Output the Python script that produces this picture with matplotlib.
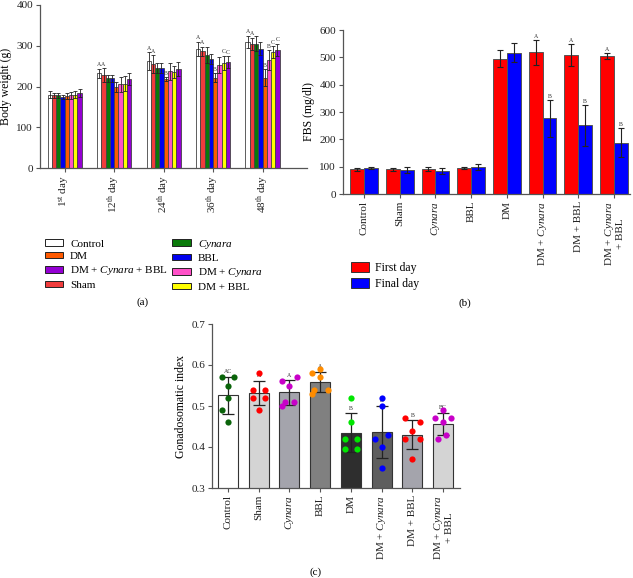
import numpy as np
import matplotlib
matplotlib.use("Agg")
import matplotlib.pyplot as plt
from matplotlib.patches import Patch

plt.rcParams['font.family'] = ['Liberation Serif', 'DejaVu Serif']
plt.rcParams['mathtext.fontset'] = 'custom'
plt.rcParams['mathtext.rm'] = 'Liberation Serif'
plt.rcParams['mathtext.it'] = 'Liberation Serif:italic'

# ---------------- Data ----------------
# Panel (a): body weight
days = ['1$^{\\rm st}$ day', '12$^{\\rm th}$ day', '24$^{\\rm th}$ day', '36$^{\\rm th}$ day', '48$^{\\rm th}$ day']
groups_a = ['Control', 'Sham', 'Cynara', 'BBL', 'DM', 'DM + Cynara', 'DM + BBL', 'DM + Cynara + BBL']
bw_control = [180, 232, 263, 292, 310]
bw_sham = [178, 228, 255, 286, 305]
bw_cynara = [178, 220, 245, 278, 305]
bw_bbl = [175, 220, 245, 268, 293]
bw_dm = [177, 198, 218, 222, 222]
bw_dm_cyn = [178, 205, 237, 252, 265]
bw_dm_bbl = [180, 207, 235, 258, 285]
bw_dm_cyn_bbl = [185, 218, 243, 260, 290]
err_control = [8, 12, 22, 18, 15]
err_sham = [6, 18, 22, 12, 15]
err_cynara = [6, 8, 12, 20, 18]
err_bbl = [5, 8, 12, 12, 15]
err_dm = [7, 12, 5, 10, 20]
err_dm_cyn = [8, 18, 20, 20, 25]
err_dm_bbl = [8, 18, 15, 18, 15]
err_dm_cyn_bbl = [10, 15, 18, 15, 15]
letters_a = {  # (day index, group index): letter
    (1, 0): 'A', (1, 1): 'A',
    (2, 0): 'A', (2, 1): 'A', (2, 4): 'B',
    (3, 0): 'A', (3, 1): 'A', (3, 4): 'B', (3, 6): 'C', (3, 7): 'C',
    (4, 0): 'A', (4, 1): 'A', (4, 4): 'B', (4, 5): 'B', (4, 6): 'C', (4, 7): 'C',
}

# Panel (b): FBS
cats = ['Control', 'Sham', 'Cynara', 'BBL', 'DM', 'DM + Cynara', 'DM + BBL', 'DM + Cynara + BBL']
fbs_first = [90, 90, 92, 94, 495, 518, 510, 505]
fbs_final = [95, 87, 85, 98, 517, 277, 252, 188]
fbs_first_err = [5, 5, 7, 3, 30, 45, 40, 10]
fbs_final_err = [5, 10, 10, 10, 35, 68, 75, 52]
letters_first = ['', '', '', '', '', 'A', 'A', 'A']
letters_final = ['', '', '', '', '', 'B', 'B', 'B']

# Panel (c): gonadosomatic index (individual points)
gsi_control = [0.57, 0.57, 0.55, 0.52, 0.49, 0.46]
gsi_sham = [0.58, 0.54, 0.54, 0.52, 0.52, 0.49]
gsi_cynara = [0.56, 0.57, 0.55, 0.51, 0.51, 0.50]
gsi_bbl = [0.58, 0.59, 0.57, 0.54, 0.54, 0.53]
gsi_dm = [0.52, 0.46, 0.42, 0.42, 0.395, 0.395]
gsi_dm_cyn = [0.52, 0.50, 0.42, 0.43, 0.40, 0.35]
gsi_dm_bbl = [0.47, 0.46, 0.44, 0.42, 0.42, 0.37]
gsi_dm_cyn_bbl = [0.49, 0.47, 0.47, 0.46, 0.43, 0.42]
letters_c = ['AC', 'A', 'A', 'A', 'B', 'B', 'B', 'BC']

# ---------------- Figure ----------------
fig = plt.figure(figsize=(6.33, 5.78), dpi=100)
W, H = 633, 578
def ax_px(l, t, r, b):
    return fig.add_axes([l / W, 1 - b / H, (r - l) / W, (b - t) / H])

TICK = 8
spine_col = '#555555'
def style(ax):
    for s in ['top', 'right']:
        ax.spines[s].set_visible(False)
    for s in ['left', 'bottom']:
        ax.spines[s].set_color(spine_col)
        ax.spines[s].set_linewidth(0.9)
    ax.tick_params(colors='#222222', labelsize=TICK, width=0.8, length=3, color=spine_col, pad=2)

def it_label(s):
    return s.replace('Cynara', '$\\mathit{Cynara}$')

# ---- Panel (a) ----
axa = ax_px(40, 5, 307, 168)
style(axa)
vals_a = [bw_control, bw_sham, bw_cynara, bw_bbl, bw_dm, bw_dm_cyn, bw_dm_bbl, bw_dm_cyn_bbl]
errs_a = [err_control, err_sham, err_cynara, err_bbl, err_dm, err_dm_cyn, err_dm_bbl, err_dm_cyn_bbl]
cols_a = ['#ffffff', '#f03c3c', '#0a7a0a', '#0000ee', '#ff5a00', '#ff50c8', '#ffff00', '#9400d3']
x = np.arange(len(days))
bwid = 0.086
handles_a = {}
for gi, (v, e, c) in enumerate(zip(vals_a, errs_a, cols_a)):
    xs = x + (gi - 3.5) * bwid
    axa.bar(xs, v, width=bwid, color=c, edgecolor='#444444', linewidth=0.6,
            yerr=e, error_kw=dict(ecolor='#222222', elinewidth=0.6, capsize=1.2, capthick=0.6))
    handles_a[groups_a[gi]] = Patch(facecolor=c, edgecolor='#222222', linewidth=0.7)
for (di, gi), lt in letters_a.items():
    xs = x[di] + (gi - 3.5) * bwid
    axa.text(xs, vals_a[gi][di] + errs_a[gi][di] + 3, lt, ha='center', va='bottom', fontsize=4.2, color='#333333')
axa.set_ylim(0, 400)
axa.set_yticks([0, 100, 200, 300, 400])
axa.set_xlim(-0.5, 4.9)
axa.set_xticks(x)
axa.set_xticklabels(days, rotation=90, fontsize=TICK)
axa.set_ylabel('Body weight (g)', fontsize=8.5, labelpad=3)

order = ['Control', 'DM', 'DM + Cynara + BBL', 'Sham', 'Cynara', 'BBL', 'DM + Cynara', 'DM + BBL']
fig.legend([handles_a[k] for k in order], [it_label(k) for k in order],
           loc='upper left', bbox_to_anchor=(39 / W, 1 - 232 / H), ncol=2, frameon=False,
           fontsize=8, handlelength=1.7, handleheight=0.5, labelspacing=0.3,
           columnspacing=0.4, handletextpad=0.6, borderpad=0)
fig.text(143 / W, 1 - 302 / H, '(a)', ha='center', va='center', fontsize=8)

# ---- Panel (b) ----
axb = ax_px(343, 30, 630, 194)
style(axb)
xb = np.arange(len(cats))
bw2 = 0.39
ekw = dict(ecolor='#222222', elinewidth=0.8, capsize=2.5, capthick=0.8)
axb.bar(xb - bw2 / 2, fbs_first, width=bw2, color='#ff0000', edgecolor='#555555', linewidth=0.7,
        yerr=fbs_first_err, error_kw=ekw, label='First day')
axb.bar(xb + bw2 / 2, fbs_final, width=bw2, color='#0000ff', edgecolor='#555555', linewidth=0.7,
        yerr=fbs_final_err, error_kw=ekw, label='Final day')
for i in range(len(cats)):
    if letters_first[i]:
        axb.text(xb[i] - bw2 / 2, fbs_first[i] + fbs_first_err[i] + 4, letters_first[i],
                 ha='center', va='bottom', fontsize=4.2, color='#333333')
    if letters_final[i]:
        axb.text(xb[i] + bw2 / 2, fbs_final[i] + fbs_final_err[i] + 4, letters_final[i],
                 ha='center', va='bottom', fontsize=4.2, color='#333333')
axb.set_ylim(0, 600)
axb.set_yticks(range(0, 601, 100))
axb.set_xlim(-0.59, 7.45)
axb.set_xticks(xb)
labels_b = [it_label(c) for c in cats]
labels_b[-1] = 'DM + $\\mathit{Cynara}$\n+ BBL'
axb.set_xticklabels(labels_b, rotation=90, fontsize=TICK, linespacing=0.9)
axb.set_ylabel('FBS (mg/dl)', fontsize=8.5, labelpad=3)
fig.legend(handles=[Patch(facecolor='#ff0000', edgecolor='#333333', linewidth=0.7),
                    Patch(facecolor='#0000ff', edgecolor='#333333', linewidth=0.7)],
           labels=['First day', 'Final day'], loc='upper left',
           bbox_to_anchor=(345 / W, 1 - 256 / H), frameon=False, fontsize=8.5,
           handlelength=1.5, handleheight=0.9, labelspacing=0.35, handletextpad=0.5, borderpad=0)
fig.text(465 / W, 1 - 303 / H, '(b)', ha='center', va='center', fontsize=8)

# ---- Panel (c) ----
axc = ax_px(212, 324, 460, 488)
style(axc)
gsi = [gsi_control, gsi_sham, gsi_cynara, gsi_bbl, gsi_dm, gsi_dm_cyn, gsi_dm_bbl, gsi_dm_cyn_bbl]
bar_cols_c = ['#ffffff', '#d4d4d4', '#a4a4ac', '#808080', '#2e2e2e', '#5e5e5e', '#a4a4ac', '#d4d4d4']
pt_cols_c = ['#0a640a', '#ff0000', '#c800c8', '#ff8c00', '#00e600', '#0000ff', '#ff0000', '#c800c8']
offsets = [
    [-0.2, 0.2, 0.0, 0.0, -0.2, 0.0],
    [0.0, -0.2, 0.2, -0.2, 0.2, 0.0],
    [-0.25, 0.25, 0.0, -0.15, 0.15, -0.25],
    [-0.25, 0.0, 0.0, -0.2, 0.25, -0.25],
    [0.0, 0.0, -0.2, 0.2, -0.2, 0.2],
    [0.0, 0.0, -0.2, 0.2, 0.0, 0.0],
    [-0.25, 0.25, 0.0, -0.25, 0.25, 0.0],
    [0.0, -0.25, 0.25, 0.0, 0.1, -0.15],
]
xc = np.arange(len(cats))
for i, pts in enumerate(gsi):
    m = np.mean(pts)
    sd = np.std(pts, ddof=1)
    axc.bar(xc[i], m, width=0.65, color=bar_cols_c[i], edgecolor='#333333', linewidth=0.8, zorder=1)
    axc.errorbar(xc[i], m, yerr=sd, color='#222222', elinewidth=0.9, capsize=4, capthick=0.9, zorder=3)
    axc.scatter(xc[i] + np.array(offsets[i]), pts, s=20, color=pt_cols_c[i], zorder=4, linewidths=0)
    axc.text(xc[i], m + sd + 0.006, letters_c[i], ha='center', va='bottom', fontsize=4.2, color='#333333')
axc.set_ylim(0.3, 0.7)
axc.set_yticks([0.3, 0.4, 0.5, 0.6, 0.7])
axc.set_yticklabels(['0.3', '0.4', '0.5', '0.6', '0.7'])
axc.set_xlim(-0.52, 7.55)
axc.set_xticks(xc)
axc.set_xticklabels(labels_b, rotation=90, fontsize=TICK, linespacing=0.9)
axc.set_ylabel('Gonadosomatic index', fontsize=8.5, labelpad=3)
fig.text(316 / W, 1 - 572 / H, '(c)', ha='center', va='center', fontsize=8)

fig.savefig('out.png', dpi=100)
